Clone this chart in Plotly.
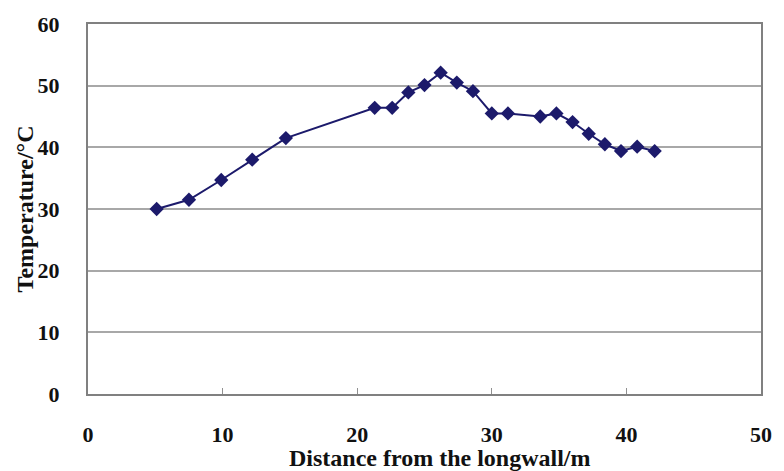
import plotly.graph_objects as go

distance_m = [5.1, 7.5, 9.9, 12.2, 14.7, 21.3, 22.6, 23.8, 25.0, 26.2, 27.4, 28.6,
              30.0, 31.2, 33.6, 34.8, 36.0, 37.2, 38.4, 39.6, 40.8, 42.1]
temperature_c = [30.0, 31.5, 34.7, 38.0, 41.5, 46.4, 46.4, 48.9, 50.1, 52.1, 50.5, 49.1,
                 45.5, 45.5, 45.0, 45.5, 44.1, 42.2, 40.5, 39.4, 40.1, 39.4]
x_ticks = [0, 10, 20, 30, 40, 50]
y_ticks = [0, 10, 20, 30, 40, 50, 60]

font_family = "Liberation Serif, Times New Roman, serif"
navy = "#1c1a6b"

fig = go.Figure()
fig.add_trace(go.Scatter(
    x=distance_m, y=temperature_c, mode="lines+markers",
    line=dict(color=navy, width=2),
    marker=dict(symbol="diamond", size=11, color=navy),
    showlegend=False,
))

fig.update_layout(
    width=784, height=471,
    margin=dict(l=88, r=14, t=20, b=77),
    paper_bgcolor="white", plot_bgcolor="white",
    font=dict(family=font_family, size=22, color="black"),
    xaxis=dict(
        range=[0, 50], tickvals=x_ticks, showgrid=False, zeroline=False,
        showline=True, linecolor="#808080", linewidth=2, mirror=True,
        ticks="inside", ticklen=6, tickcolor="#909090", tickwidth=1,
        ticklabelstandoff=20,
        tickfont=dict(family=font_family, size=22, color="#111111", weight="bold"),
    ),
    yaxis=dict(
        range=[0, 60], tickvals=y_ticks, showgrid=True, gridcolor="#a8a8a8", gridwidth=2,
        zeroline=False, showline=True, linecolor="#808080", linewidth=2, mirror=True,
        ticks="", ticklabelstandoff=22,
        tickfont=dict(family=font_family, size=22, color="#111111", weight="bold"),
    ),
    annotations=[
        dict(text="<b>Distance from the longwall/m</b>", xref="paper", yref="paper",
             x=0.523, y=-0.172, xanchor="center", yanchor="middle", showarrow=False,
             font=dict(family=font_family, size=24, color="#111111")),
        dict(text="<b>Temperature/°C</b>", xref="paper", yref="paper",
             x=-0.093, y=0.5, xanchor="center", yanchor="middle", showarrow=False,
             textangle=-90,
             font=dict(family=font_family, size=24, color="#111111")),
    ],
)

fig.write_html("out.html")
